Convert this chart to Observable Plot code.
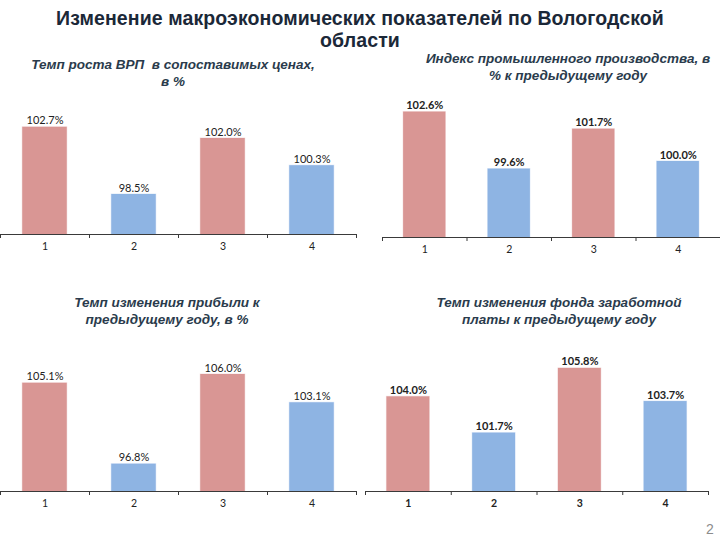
<!DOCTYPE html>
<html>
<head>
<meta charset="utf-8">
<script src="https://cdn.jsdelivr.net/npm/d3@7"></script>
<script src="https://cdn.jsdelivr.net/npm/@observablehq/plot@0.6"></script>
<style>
  html, body { margin: 0; padding: 0; background: #fff; }
  #page { position: relative; width: 720px; height: 540px; overflow: hidden; background: #fff; font-family: "Liberation Sans", Arial, sans-serif; }
  .title { position: absolute; left: 0; width: 720px; top: 7px; text-align: center; font-weight: bold; font-size: 19.5px; letter-spacing: 0.1px; line-height: 22px; color: #1b2838; }
  .sub { position: absolute; text-align: center; font-weight: bold; font-style: italic; font-size: 13.5px; line-height: 17px; color: #2a3b4c; }
  .chart { position: absolute; }
  .chart svg { overflow: visible; }
  #pagenum { position: absolute; left: 706px; top: 521px; font-size: 14px; color: #8c8c8c; }
</style>
</head>
<body>
<div id="page">
  <div class="title">Изменение макроэкономических показателей по Вологодской<br>области</div>
  <div class="sub" id="s1" style="left:18px; width:310px; top:56px;">Темп роста ВРП&nbsp; в сопоставимых ценах,<br>в %</div>
  <div class="sub" id="s2" style="left:416px; width:304px; top:50px;">Индекс промышленного производства, в<br>% к предыдущему году</div>
  <div class="sub" id="s3" style="left:17px; width:300px; top:294px;">Темп изменения прибыли к<br>предыдущему году, в %</div>
  <div class="sub" id="s4" style="left:409px; width:300px; top:294px;">Темп изменения фонда заработной<br>платы к предыдущему году</div>
  <div class="chart" id="c1"></div>
  <div class="chart" id="c2"></div>
  <div class="chart" id="c3"></div>
  <div class="chart" id="c4"></div>
  <div id="pagenum">2</div>
</div>
<script>
// ---- data ----
const categories = ["1", "2", "3", "4"];
const grpValues = [102.7, 98.5, 102.0, 100.3];        // Темп роста ВРП
const industryValues = [102.6, 99.6, 101.7, 100.0];   // Индекс промышленного производства
const profitValues = [105.1, 96.8, 106.0, 103.1];     // Темп изменения прибыли
const wageValues = [104.0, 101.7, 105.8, 103.7];      // Темп изменения фонда зарплаты

const barColors = ["#D99694", "#8EB4E3", "#D99694", "#8EB4E3"];

function makeChart(el, values, cfg) {
  const rows = categories.map((c, k) => ({cat: c, i: k + 1, value: values[k]}));
  const base = cfg.domain[0];
  const plot = Plot.plot({
    width: cfg.width,
    height: cfg.height,
    marginTop: cfg.mt,
    marginBottom: cfg.mb,
    marginLeft: cfg.ml,
    marginRight: cfg.mr,
    x: {type: "linear", domain: [0.5, categories.length + 0.5], axis: null},
    y: {domain: cfg.domain, axis: null},
    color: {domain: categories, range: barColors},
    style: {fontFamily: "Lato, 'Liberation Sans', sans-serif", background: "transparent", overflow: "visible"},
    marks: [
      Plot.rectY(rows, {x1: d => d.i - 0.25, x2: d => d.i + 0.25, y1: base, y2: "value", fill: "cat", stroke: "cat", strokeOpacity: 0.3}),
      Plot.ruleY([base], {stroke: "#3a3a3a", strokeWidth: 1.2}),
      Plot.axisX({ticks: d3.range(0.5, categories.length + 1, 1), tickSize: 4, tickFormat: () => "", stroke: "#3a3a3a", label: null}),
      Plot.axisX({ticks: rows.map(d => d.i), tickSize: 0, tickPadding: 8, tickFormat: i => categories[i - 1], fontSize: 10.5, fontWeight: cfg.tickBold ? "bold" : "normal", fill: "#222", label: null}),
      Plot.text(rows, {x: "i", y: "value", text: d => d.value.toFixed(1) + "%", dy: -3, lineAnchor: "bottom", fontSize: 11, fontWeight: cfg.labelBold ? "bold" : "normal", fill: "#222"})
    ]
  });
  el.style.left = cfg.left + "px";
  el.style.top = cfg.top + "px";
  el.appendChild(plot);
}

makeChart(document.getElementById("c1"), grpValues,
  {left: 0, top: 100, width: 360, height: 170, mt: 6, mb: 36, ml: 0, mr: 4, domain: [96, 104]});
makeChart(document.getElementById("c2"), industryValues,
  {left: 360, top: 80, width: 360, height: 193, mt: 24, mb: 36, ml: 22, mr: 0, domain: [96, 103], labelBold: true});
makeChart(document.getElementById("c3"), profitValues,
  {left: 0, top: 330, width: 360, height: 197, mt: 24.5, mb: 36, ml: 0, mr: 4, domain: [94, 108]});
makeChart(document.getElementById("c4"), wageValues,
  {left: 360, top: 330, width: 360, height: 197, mt: 19, mb: 36, ml: 5, mr: 12, domain: [98, 107], labelBold: true, tickBold: true});
</script>
</body>
</html>
